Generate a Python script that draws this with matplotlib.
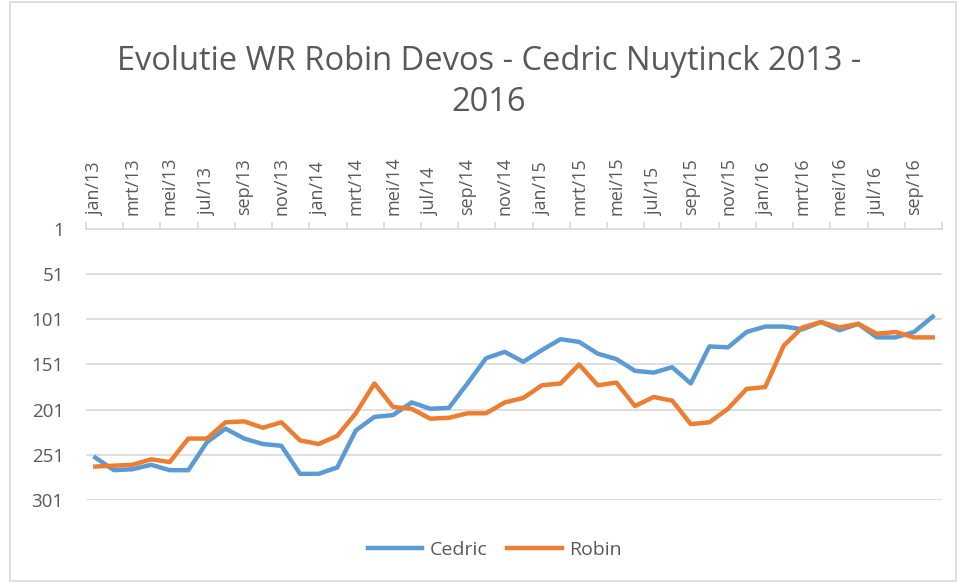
import matplotlib
matplotlib.use("Agg")
import matplotlib.pyplot as plt
import numpy as np

# monthly world ranking, jan/13 .. okt/16
maanden = ["jan", "feb", "mrt", "apr", "mei", "jun",
           "jul", "aug", "sep", "okt", "nov", "dec"]
labels = [m + "/" + str(j) for j in (13, 14, 15, 16) for m in maanden][:46]

cedric = [254, 268, 267, 262, 268, 268, 237, 222, 233, 239, 241, 272,
          272, 265, 224, 209, 207, 193, 200, 199, 172, 144, 137, 148,
          135, 123, 126, 139, 145, 158, 160, 154, 172, 131, 132, 115,
          109, 109, 112, 104, 113, 106, 121, 121, 115, 98]
robin = [264, 263, 262, 256, 259, 233, 233, 215, 214, 221, 215, 235,
         239, 230, 205, 172, 198, 200, 211, 210, 205, 205, 193, 188,
         174, 172, 151, 174, 171, 197, 187, 191, 217, 215, 200, 178,
         176, 130, 110, 104, 110, 106, 117, 115, 121, 121]
y_ticks = [1, 51, 101, 151, 201, 251, 301]

grey = "#595959"
plt.rcParams['font.family'] = ['Open Sans', 'DejaVu Sans']

fig = plt.figure(figsize=(9.59, 5.82), dpi=100)
ax = fig.add_axes([86/959, 1 - 500/582, (942-86)/959, (500-229)/582])

x = np.arange(len(labels))
ax.plot(x, cedric, color="#5b9bd5", lw=3.2, label="Cedric", solid_joinstyle="round")
ax.plot(x, robin, color="#ed7d31", lw=3.2, label="Robin", solid_joinstyle="round")

ax.set_xlim(-0.5, len(labels) - 0.5)
ax.set_ylim(301, 1)
ax.set_yticks(y_ticks)
ax.set_yticklabels([str(v) for v in y_ticks], color=grey, fontsize=13.5)
ax.tick_params(axis="y", length=0, pad=16)
ax.yaxis.grid(True, color="#d9d9d9", lw=1.2)
ax.set_axisbelow(True)

ax.xaxis.tick_top()
ax.set_xticks(x[::2])
ax.set_xticklabels(labels[::2], rotation=90, color=grey, fontsize=13)
ax.set_xticks(np.arange(-0.5, len(labels), 2), minor=True)
ax.tick_params(axis="x", which="major", length=0, pad=10)
ax.tick_params(axis="x", which="minor", length=5, color="#d9d9d9", width=1.2)

for s in ["bottom", "left", "right"]:
    ax.spines[s].set_visible(False)
ax.spines["top"].set_color("#d9d9d9")
ax.spines["top"].set_linewidth(1.2)

fig.suptitle("Evolutie WR Robin Devos - Cedric Nuytinck 2013 -\n2016",
             x=0.51, y=0.922, color=grey, fontsize=23.5, linespacing=1.3)

fig.legend(loc="center", bbox_to_anchor=(0.516, 0.055), ncol=2, frameon=False,
           fontsize=14, handlelength=2.8, columnspacing=1.0, handletextpad=0.4,
           labelcolor=grey)

border = plt.Rectangle((10/959, 0.002), 946/959, 0.995, transform=fig.transFigure,
                       fill=False, edgecolor="#d9d9d9", lw=1.2)
fig.patches.append(border)

fig.savefig("out.png", dpi=100)
